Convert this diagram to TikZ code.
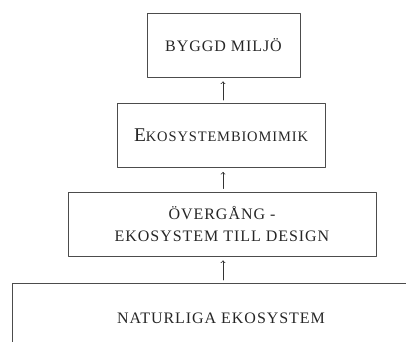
\documentclass[tikz,border=0pt]{standalone}
\usepackage{fontspec}
\setmainfont[LetterSpace=6]{Liberation Serif}
\usepackage{pgf,tikz}
\usetikzlibrary{arrows}
\newcommand{\smallcapsword}[2]{{\fontsize{19.5}{22}\selectfont #1}{\fontsize{14.5}{22}\selectfont #2}}
\tikzset{
  levelbox/.style={draw=black!70,line width=0.9pt,minimum height=64pt,inner sep=0pt,align=center,text=black!85,font=\fontsize{16}{22}\selectfont},
  levelarrow/.style={->,draw=black!80,line width=0.8pt,shorten >=4pt,shorten <=3pt}
}
\begin{document}
\begin{tikzpicture}[line cap=round,line join=round,>=to,x=1pt,y=1pt]
\useasboundingbox (0,0) rectangle (406,341);
\node[levelbox,minimum width=153pt] (miljo) at (223.5,296) {BYGGD MILJÖ};
\node[levelbox,minimum width=208pt] (biomimik) at (221,205.5) {\smallcapsword{E}{KOSYSTEMBIOMIMIK}};
\node[levelbox,minimum width=308pt] (overgang) at (222,117) {ÖVERGÅNG -\\EKOSYSTEM TILL DESIGN};
\node[text=black!85,font=\fontsize{16}{22}\selectfont] (natur) at (221,23) {NATURLIGA EKOSYSTEM};
\draw[draw=black!70,line width=0.9pt] (12,-2) -- (12,58) -- (408,58);
\coordinate (naturtop) at (223,58);
% arrows all on one vertical line
\draw[levelarrow] (naturtop) -- (overgang.south -| naturtop);
\draw[levelarrow] (overgang.north -| naturtop) -- (biomimik.south -| naturtop);
\draw[levelarrow] (biomimik.north -| naturtop) -- (miljo.south -| naturtop);
\end{tikzpicture}
\end{document}
